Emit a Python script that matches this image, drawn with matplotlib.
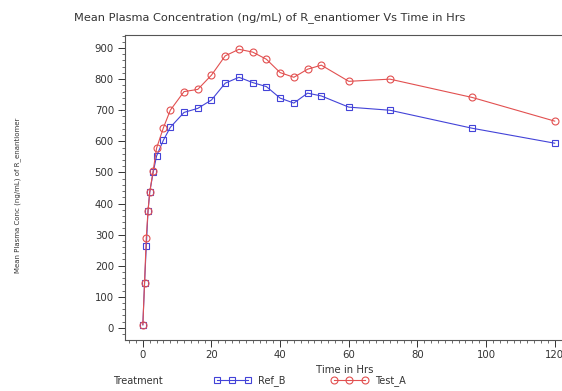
import matplotlib
matplotlib.use("Agg")
import matplotlib.pyplot as plt
from matplotlib.ticker import MultipleLocator

# Data
time_ref = [0, 0.5, 1, 1.5, 2, 3, 4, 6, 8, 12, 16, 20, 24, 28, 32, 36, 40, 44, 48, 52, 60, 72, 96, 120]
ref_b = [10, 145, 262, 375, 436, 500, 553, 604, 645, 693, 706, 733, 787, 806, 789, 776, 739, 723, 755, 746, 710, 700, 642, 594]
time_test = [0, 0.5, 1, 1.5, 2, 3, 4, 6, 8, 12, 16, 20, 24, 28, 32, 36, 40, 44, 48, 52, 60, 72, 96, 120]
test_a = [10, 145, 290, 375, 436, 505, 578, 644, 700, 760, 767, 813, 875, 896, 887, 864, 821, 806, 832, 845, 793, 800, 741, 665]

xticks = [0, 20, 40, 60, 80, 100, 120]
yticks = [0, 100, 200, 300, 400, 500, 600, 700, 800, 900]

blue = "#4343d8"
red = "#e25050"

fig = plt.figure(figsize=(5.62, 3.91), dpi=100)
ax = fig.add_axes([125/562, 51/391, 440/562, 305/391])

l1, = ax.plot(time_ref, ref_b, color=blue, lw=0.8, marker="s", ms=5,
              mfc="none", mec=blue, mew=0.8, label="Ref_B")
l2, = ax.plot(time_test, test_a, color=red, lw=0.8, marker="o", ms=5,
              mfc="none", mec=red, mew=0.8, label="Test_A")

ax.set_xlim(-5.2, 123)
ax.set_ylim(-39, 942)
ax.set_xticks(xticks)
ax.set_yticks(yticks)
ax.xaxis.set_minor_locator(MultipleLocator(2))
ax.yaxis.set_minor_locator(MultipleLocator(20))
ax.tick_params(axis="both", which="major", direction="out", length=5, width=0.7,
               labelsize=7.3, colors="#333333", pad=3)
ax.tick_params(axis="x", which="major", pad=2)
ax.tick_params(axis="both", which="minor", direction="out", length=2.5, width=0.6,
               colors="#555555")
for s in ["left", "bottom", "top"]:
    ax.spines[s].set_color("#555555")
    ax.spines[s].set_linewidth(0.8)
ax.spines["right"].set_visible(False)

ax.set_xlabel("Time in Hrs", fontsize=7.3, color="#333333", labelpad=4)
fig.text(18/562, 1 - 195/391, "Mean Plasma Conc (ng/mL) of R_enantiomer",
         rotation=90, ha="center", va="center", fontsize=5,
         family=["DejaVu Sans Condensed", "DejaVu Sans"], color="#333333")
fig.text(270/562, 1 - 18/391,
         "Mean Plasma Concentration (ng/mL) of R_enantiomer Vs Time in Hrs",
         ha="center", va="center", fontsize=8.2, color="#333333")

fig.text(113/562, 1 - 381/391, "Treatment", ha="left", va="center",
         fontsize=7, color="#333333")
fig.legend(handles=[l1, l2], loc="center left", bbox_to_anchor=(205/562, 1 - 381/391),
           ncol=2, frameon=False, fontsize=7, numpoints=3, handlelength=3.8,
           columnspacing=4.6, handletextpad=0.8, labelcolor="#333333")

fig.savefig("out.png", dpi=100)
